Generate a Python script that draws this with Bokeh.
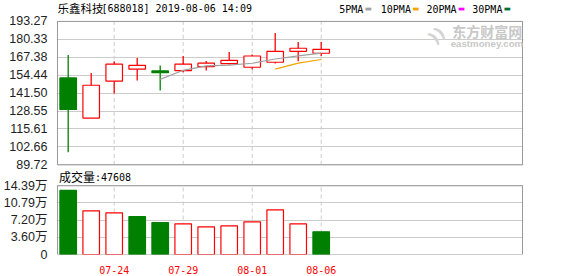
from bokeh.plotting import figure
from bokeh.models import Range1d, FixedTicker, Label, ColumnDataSource
from bokeh.embed import file_html
from bokeh.resources import INLINE
import pandas as pd

# ---------------- data ----------------
stock_name = "乐鑫科技"
stock_info = "[688018] 2019-08-06 14:09"
dates = ["07-22", "07-23", "07-24", "07-25", "07-26", "07-29",
         "07-30", "07-31", "08-01", "08-02", "08-05", "08-06"]
open_ = [152.5, 123.5, 150.1, 158.8, 157.5, 157.8, 160.6, 162.8, 160.2, 163.8, 171.7, 170.3]
close = [129.7, 147.2, 162.4, 161.6, 156.3, 162.4, 163.1, 165.2, 168.3, 171.7, 173.9, 173.1]
high = [169.0, 156.1, 164.5, 166.9, 161.4, 168.3, 164.7, 171.2, 169.3, 184.9, 178.4, 178.4]
low = [98.8, 123.5, 141.2, 150.6, 143.4, 156.5, 157.8, 162.1, 158.5, 162.8, 164.5, 168.3]
volume_wan = [13.41, 9.15, 8.73, 7.96, 6.70, 6.43, 5.80, 6.01, 6.85, 9.36, 6.43, 4.76]
last_volume = "47608"
price_ticks = [89.72, 102.66, 115.61, 128.55, 141.50, 154.44, 167.38, 180.33, 193.27]
vol_ticks = [0, 3.5975, 7.195, 10.7925, 14.39]
vol_tick_labels = ["0", "3.60万", "7.20万", "10.79万", "14.39万"]
date_tick_idx = [2, 5, 8, 11]
ma_names = ["5PMA", "10PMA", "20PMA", "30PMA"]
ma_windows = [5, 10, 20, 30]

# ---------------- styles ----------------
RED = "#ff0000"
GREEN = "#008000"
MA_COLORS = ["#a0a0a0", "#f5a300", "#ff00ff", "#006e36"]
GRID = "#cccccc"
BORDER = "#999999"
TXT = "#1e1e1e"
WATERMARK = "#c8c8c8"

n = len(dates)
idx = list(range(n))
up = [c >= o for o, c in zip(open_, close)]
vol_up = [close[0] >= open_[0]] + [close[i] >= close[i - 1] for i in range(1, n)]

src = ColumnDataSource(dict(
    x=idx, o=open_, c=close, h=high, l=low,
    top=[max(o, c) for o, c in zip(open_, close)],
    bot=[min(o, c) for o, c in zip(open_, close)],
    col=[RED if u else GREEN for u in up],
    fill=["white" if u else GREEN for u in up],
    vol=volume_wan,
    vcol=[RED if u else GREEN for u in vol_up],
    vfill=["white" if u else GREEN for u in vol_up],
))

# ---------------- pixel geometry ----------------
# frame spans x 55..523, y 0..255; price box y 21..165, volume box y 186..255
slot = 23.05
x0 = -0.465          # data x at pixel 56 (left edge of the boxes)


def X(px):
    return x0 + (px - 56) / slot


p_lo, p_hi = price_ticks[0], price_ticks[-1]
ppy = (p_hi - p_lo) / 144.0


def Y1(py):  # price-range value at absolute pixel row py
    return p_hi + (21 - py) * ppy


v_hi = vol_ticks[-1]
vppy = v_hi / 69.0


def V(py):  # volume-range value at absolute pixel row py
    return (255 - py) * vppy


p = figure(width=578, height=276, x_range=Range1d(X(55), X(523)),
           y_range=Range1d(Y1(255), Y1(0)),
           output_backend="svg", toolbar_location=None,
           min_border_left=55, min_border_right=55, min_border_top=0, min_border_bottom=21)
p.extra_y_ranges = {"vol": Range1d(V(255), V(0))}
p.outline_line_color = None
p.xgrid.visible = False

# one left axis carries both panels' tick labels
vol_tick_pos = [Y1(255 - v / vppy) for v in vol_ticks]
ticks = price_ticks + vol_tick_pos
overrides = {t: "%.2f" % t for t in price_ticks}
overrides.update({t: s for t, s in zip(vol_tick_pos, vol_tick_labels)})
ax = p.yaxis[0]
ax.ticker = FixedTicker(ticks=ticks)
ax.major_label_overrides = overrides
ax.axis_line_color = None
ax.major_tick_line_color = None
ax.minor_tick_line_color = None
ax.major_label_standoff = 3
ax.major_label_text_font = "Liberation Sans, Noto Sans CJK SC"
ax.major_label_text_font_size = "12.5px"
ax.major_label_text_color = TXT
p.ygrid.grid_line_color = GRID

xa = p.xaxis[0]
xa.ticker = FixedTicker(ticks=date_tick_idx)
xa.major_label_overrides = {i: dates[i] for i in date_tick_idx}
xa.axis_line_color = None
xa.major_tick_line_color = None
xa.minor_tick_line_color = None
xa.major_label_standoff = 5
xa.major_label_text_font = "DejaVu Sans Mono"
xa.major_label_text_font_size = "10px"
xa.major_label_text_color = RED


# ---- texts ----
def lab(x, y, text, font, size, color, bold=False, align="left", italic=False, angle=0.0):
    style = "bold" if bold else "normal"
    if italic:
        style = "bold italic" if bold else "italic"
    p.add_layout(Label(x=x, y=y, text=text, text_font=font, text_font_size=size,
                       text_color=color, text_baseline="middle", text_align=align,
                       text_font_style=style, angle=angle))


# watermark (drawn first, beneath the marks)
lab(X(436), Y1(35), "))", "DejaVu Sans", "17px", "#d4d4d4", bold=True, align="center", angle=0.75)
lab(X(451.5), Y1(30.3), "东方财富网", "Noto Sans CJK SC", "14px", WATERMARK, bold=True)
lab(X(450), Y1(43.3), "eastmoney.com", "Liberation Sans", "9.7px", WATERMARK, bold=True)

# ---- price panel ----
p.segment(x0=date_tick_idx, y0=p_lo, x1=date_tick_idx, y1=p_hi,
          line_color=GRID, line_dash="4 3", line_width=1)
p.quad(left=X(56), right=X(522), bottom=p_lo, top=p_hi,
       fill_color=None, line_color=BORDER, line_width=1)

p.segment(x0="x", y0="h", x1="x", y1="l", source=src, line_color="col", line_width=1.3)
p.vbar(x="x", top="top", bottom="bot", width=0.72, source=src,
       fill_color="fill", line_color="col", line_width=1.2)

cs = pd.Series(close)
for name, w, colr in zip(ma_names, ma_windows, MA_COLORS):
    ma = cs.rolling(w).mean()
    xs = [i for i in idx if pd.notna(ma[i])]
    ys = [ma[i] for i in xs]
    if xs:
        p.line(xs, ys, line_color=colr, line_width=1.2)

# ---- volume panel ----
p.segment(x0=date_tick_idx, y0=0, x1=date_tick_idx, y1=v_hi, y_range_name="vol",
          line_color=GRID, line_dash="4 3", line_width=1)
p.quad(left=X(56), right=X(522), bottom=0, top=v_hi, y_range_name="vol",
       fill_color=None, line_color=BORDER, line_width=1)
p.vbar(x="x", top="vol", bottom=0, width=0.72, source=src, y_range_name="vol",
       fill_color="vfill", line_color="vcol", line_width=1.2)

lab(X(56), Y1(8), stock_name, "Noto Sans CJK SC", "11.5px", "#000000")
lab(X(100), Y1(8.3), stock_info, "DejaVu Sans Mono", "10px", "#000000")

legend_x = [338.3, 380.0, 425.7, 471.7]
for name, lx, colr in zip(ma_names, legend_x, MA_COLORS):
    lab(X(lx), Y1(8.7), name, "DejaVu Sans Mono", "10px", "#000000")
    lab(X(lx + 6.02 * len(name) + 1.5), Y1(8.5), "\u25ac", "DejaVu Sans", "7.5px", colr)

lab(X(57.5), Y1(177), "成交量", "Noto Sans CJK SC", "12px", "#000000")
lab(X(93.5), Y1(177.3), ":" + last_volume, "DejaVu Sans Mono", "10px", "#000000")

open("out.html", "w").write(file_html(p, INLINE))
